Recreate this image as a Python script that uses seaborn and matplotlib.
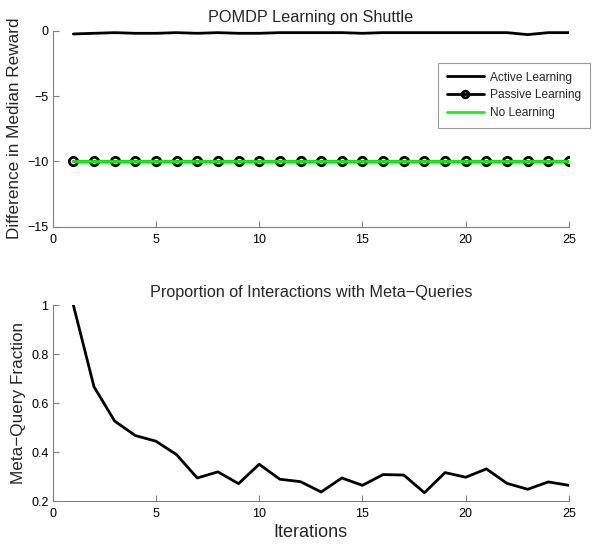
import matplotlib
matplotlib.use("Agg")
import matplotlib.pyplot as plt
import seaborn as sns
import pandas as pd

# Data
iterations = list(range(1, 26))
active_learning = [-0.25, -0.2, -0.15, -0.2, -0.2, -0.15, -0.2, -0.15, -0.2, -0.2,
                   -0.15, -0.15, -0.15, -0.15, -0.2, -0.15, -0.15, -0.15, -0.15, -0.15,
                   -0.15, -0.15, -0.3, -0.15, -0.15]
passive_learning = [-10] * 25
no_learning = [-10] * 25
meta_query_fraction = [1.0, 0.667, 0.527, 0.468, 0.445, 0.39, 0.295, 0.32, 0.272, 0.351,
                       0.29, 0.28, 0.238, 0.295, 0.265, 0.309, 0.307, 0.235, 0.317, 0.298,
                       0.332, 0.273, 0.249, 0.279, 0.265]

sns.set_theme(style="white")
plt.rcParams["font.family"] = ["Liberation Sans", "DejaVu Sans"]

df_top = pd.DataFrame({"Iteration": iterations, "Active": active_learning,
                       "Passive": passive_learning, "None": no_learning})
df_bot = pd.DataFrame({"Iteration": iterations, "Fraction": meta_query_fraction})

fig = plt.figure(figsize=(6.0, 5.44), dpi=100)
ax1 = fig.add_axes([0.0878, 0.5833, 0.8605, 0.3603])
ax2 = fig.add_axes([0.0878, 0.0785, 0.8605, 0.3608])

sns.lineplot(data=df_top, x="Iteration", y="Active", ax=ax1, color="black",
             linewidth=2, label="Active Learning")
sns.lineplot(data=df_top, x="Iteration", y="Passive", ax=ax1, color="black",
             linewidth=2, marker="o", markersize=6, markerfacecolor="none",
             markeredgecolor="black", markeredgewidth=2, label="Passive Learning")
sns.lineplot(data=df_top, x="Iteration", y="None", ax=ax1, color="#00ff00",
             linewidth=2, label="No Learning")

sns.lineplot(data=df_bot, x="Iteration", y="Fraction", ax=ax2, color="black",
             linewidth=2)

ax1.set_xlim(0, 25)
ax1.set_ylim(-15, 0)
ax1.set_yticks([-15, -10, -5, 0])
ax1.set_title("POMDP Learning on Shuttle", fontsize=11.7, pad=6)
ax1.set_ylabel("Difference in Median Reward", fontsize=12.3)
ax1.set_xlabel("")

ax2.set_xlim(0, 25)
ax2.set_ylim(0.2, 1.0)
ax2.set_yticks([0.2, 0.4, 0.6, 0.8, 1.0])
ax2.set_yticklabels(["0.2", "0.4", "0.6", "0.8", "1"])
ax2.set_title("Proportion of Interactions with Meta\u2212Queries", fontsize=11.7, pad=6)
ax2.set_ylabel("Meta\u2212Query Fraction", fontsize=12.3)
ax2.set_xlabel("Iterations", fontsize=13, labelpad=3)

for ax in (ax1, ax2):
    ax.set_xticks([0, 5, 10, 15, 20, 25])
    sns.despine(ax=ax)
    for side in ("left", "bottom"):
        ax.spines[side].set_color("#808080")
        ax.spines[side].set_linewidth(0.8)
    ax.tick_params(direction="in", length=4, width=0.8, color="#808080",
                   labelsize=9, labelcolor="black", pad=3,
                   left=True, bottom=True)
    ax.tick_params(axis="x", pad=5)
    ax.grid(False)

ax1.set_yticklabels(["\u221215", "\u221210", "\u22125", "0"])

leg = ax1.legend(loc="upper right", bbox_to_anchor=(0.983, 0.885),
                 bbox_transform=fig.transFigure, borderaxespad=0,
                 fontsize=8.6, frameon=True, fancybox=False,
                 edgecolor="#808080", handlelength=3.1, borderpad=0.75,
                 labelspacing=0.5, handletextpad=0.5, markerscale=0.8)
leg.get_frame().set_linewidth(0.8)

fig.savefig("out.png", dpi=100)
